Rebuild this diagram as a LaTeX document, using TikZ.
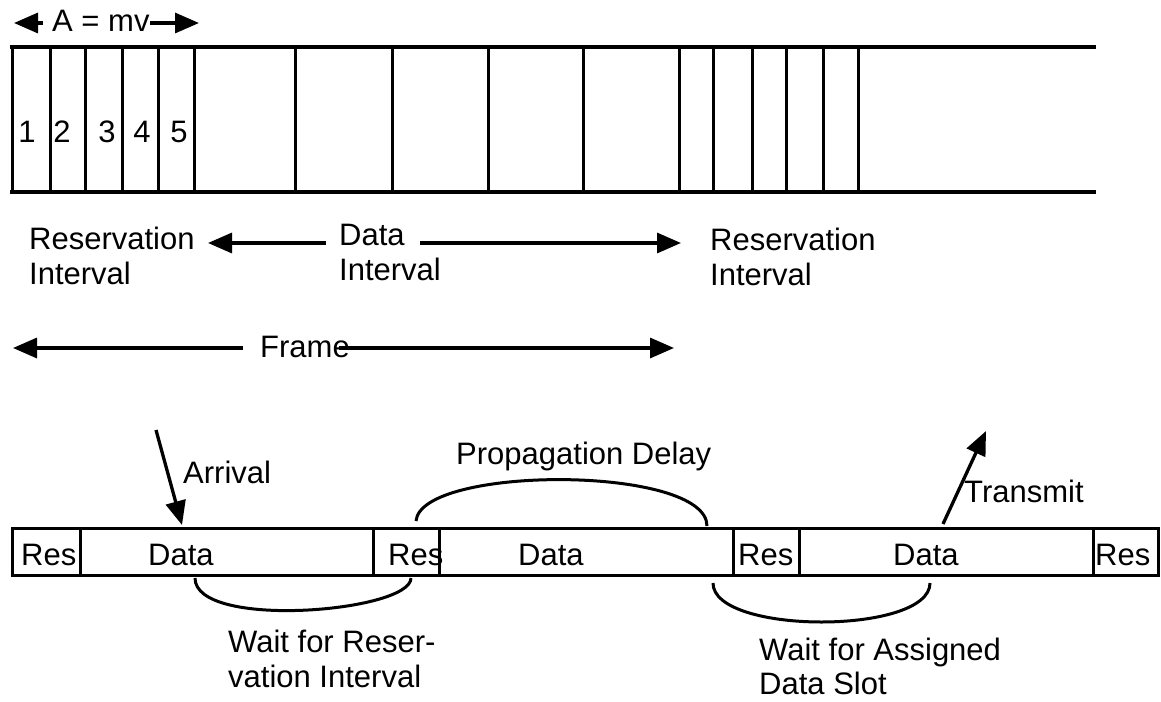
\documentclass[tikz,border=0pt]{standalone}
\usepackage{fontspec}
\setmainfont{Liberation Sans}
\usetikzlibrary{arrows.meta}
\begin{document}
\begin{tikzpicture}[x=1pt,y=-1pt,
  lbl/.style={inner sep=0pt, anchor=base west, font=\fontsize{31}{35}\selectfont},
  num/.style={inner sep=0pt, anchor=base, font=\fontsize{31}{35}\selectfont},
  strip/.style={line width=3.2pt, line cap=rect},
  cell/.style={line width=3pt},
  arr/.style={line width=3.3pt, -{Triangle[length=24pt,width=20pt]}},
  curveline/.style={line width=3pt}]
\useasboundingbox (0,0) rectangle (1161,701);

% ---------- upper frame strip ----------
\draw[strip] (12,47) -- (1094,47);
\draw[strip] (12,192) -- (1094,192);
\foreach \x in {12.7,50,85,122,158,194,295,392,488,583,679,713,752,786,823,858}
  \draw[cell] (\x,47) -- (\x,192);
\node[num] (n1) at (27,142) {1};
\node[num] (n2) at (62,142) {2};
\node[num] (n3) at (107,142) {3};
\node[num] (n4) at (142,142) {4};
\node[num] (n5) at (179,142) {5};

% ---------- A = mv ----------
\node[lbl] (amv) at (52,32) {A = mv};
\coordinate (amvLs) at (43,23);
\coordinate (amvLt) at (14,23);
\coordinate (amvRs) at (150,23);
\coordinate (amvRt) at (199,23);
\draw[arr] (amvLs) -- (amvLt);
\draw[arr] (amvRs) -- (amvRt);

% ---------- interval labels ----------
\node[lbl] (resA1) at (29,249) {Reservation};
\node[lbl] (resA2) at (29,284) {Interval};
\node[lbl] (dat1) at (339,245) {Data};
\node[lbl] (dat2) at (339,280) {Interval};
\node[lbl] (resB1) at (710,250) {Reservation};
\node[lbl] (resB2) at (710,285) {Interval};
\coordinate (diL) at (208,243);
\coordinate (diLs) at (326,243);
\coordinate (diRs) at (420,243);
\coordinate (diR) at (681,243);
\draw[arr] (diLs) -- (diL);
\draw[arr] (diRs) -- (diR);

% ---------- frame ----------
\coordinate (frL) at (13,348);
\coordinate (frLs) at (243,348);
\coordinate (frRs) at (339,348);
\coordinate (frR) at (674,348);
\draw[arr] (frLs) -- (frL);
\draw[arr] (frRs) -- (frR);
\node[lbl] (frame) at (260,357) {Frame};

% ---------- lower strip ----------
\draw[cell] (12,528) rectangle (1158,575);
\foreach \x in {80,373,439,733,799,1093}
  \draw[cell] (\x,528) -- (\x,575);
\node[lbl] (r1) at (21,565) {Res};
\node[lbl] (d1) at (148,565) {Data};
\node[lbl] (r2) at (388,565) {Res};
\node[lbl] (d2) at (518,565) {Data};
\node[lbl] (r3) at (738,565) {Res};
\node[lbl] (d3) at (893,565) {Data};
\node[lbl] (r4) at (1095,565) {Res};

% ---------- arrival / transmit ----------
\coordinate (arrS) at (156,430);
\coordinate (arrT) at (182,525);
\draw[arr] (arrS) -- (arrT);
\node[lbl] (arrival) at (183,483) {Arrival};
\coordinate (trS) at (943,524);
\coordinate (trT) at (986,431);
\draw[arr] (trS) -- (trT);
\node[lbl] (transmit) at (964,502) {Transmit};

% ---------- propagation delay ----------
\node[lbl] (prop) at (456,464) {Propagation Delay};
\coordinate (pdA) at (416,521);
\coordinate (pdB) at (707,526);
\draw[curveline] (pdA) .. controls (421,465) and (707,465) .. (pdB);

% ---------- wait for reservation ----------
\coordinate (wrA) at (195,578);
\coordinate (wrB) at (411,578);
\draw[curveline] (wrA) .. controls (195,630) and (411,612) .. (wrB);
\node[lbl] (wr1) at (228,652) {Wait for Reser-};
\node[lbl] (wr2) at (228,687) {vation Interval};

% ---------- wait for assigned ----------
\coordinate (waA) at (713,583);
\coordinate (waB) at (930,583);
\draw[curveline] (waA) .. controls (713,635) and (930,635) .. (waB);
\node[lbl] (wa1) at (759,660) {Wait for Assigned};
\node[lbl] (wa2) at (759,694) {Data Slot};
\end{tikzpicture}
\end{document}
